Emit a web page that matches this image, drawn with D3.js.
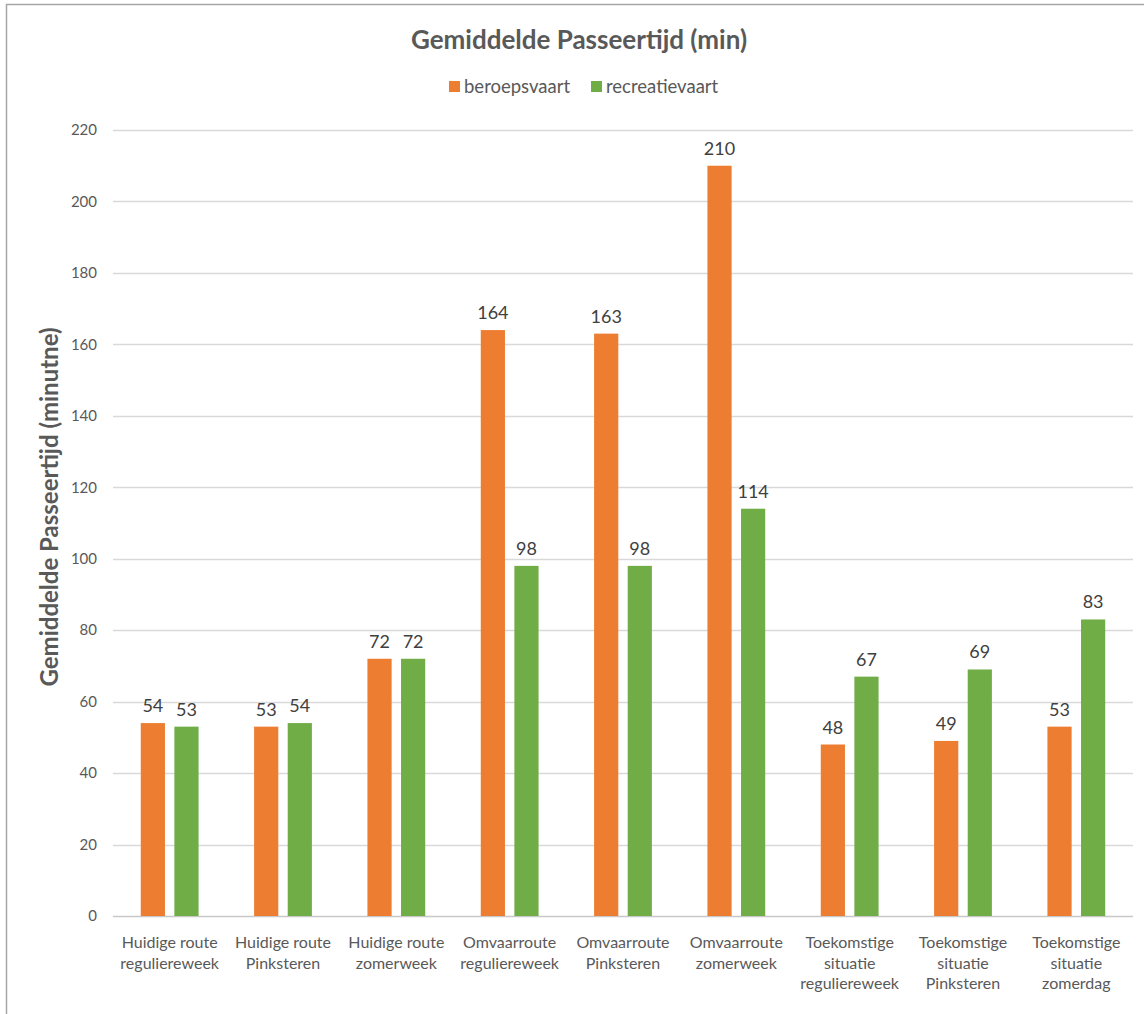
<!DOCTYPE html>
<html>
<head>
<meta charset="utf-8">
<script src="https://cdn.jsdelivr.net/npm/d3@7/dist/d3.min.js"></script>
<style>
  html, body { margin: 0; padding: 0; background: #fff; }
  svg { display: block; font-family: Lato, "Open Sans", "Noto Sans", sans-serif; }
</style>
</head>
<body>
<svg id="chart" width="1144" height="1014"></svg>
<script>
// Categories (multi-line labels) and series values in minutes
const categories = [
  ["Huidige route", "reguliereweek"],
  ["Huidige route", "Pinksteren"],
  ["Huidige route", "zomerweek"],
  ["Omvaarroute", "reguliereweek"],
  ["Omvaarroute", "Pinksteren"],
  ["Omvaarroute", "zomerweek"],
  ["Toekomstige", "situatie", "reguliereweek"],
  ["Toekomstige", "situatie", "Pinksteren"],
  ["Toekomstige", "situatie", "zomerdag"]
];
const seriesNames = ["beroepsvaart", "recreatievaart"];
const beroepsvaart = [54, 53, 72, 164, 163, 210, 48, 49, 53];
const recreatievaart = [53, 54, 72, 98, 98, 114, 67, 69, 83];
const yTicks = [0, 20, 40, 60, 80, 100, 120, 140, 160, 180, 200, 220];
const seriesColors = ["#ED7D31", "#70AD47"];

const svg = d3.select("#chart");
const W = 1144, H = 1014;
const margin = { left: 113, right: 11, top: 130, bottom: 98 };
const plotW = W - margin.left - margin.right;
const plotH = H - margin.top - margin.bottom;

// chart frame
svg.append("rect").attr("x", 6.5).attr("y", 4.5).attr("width", W + 10).attr("height", H + 10)
  .attr("fill", "#fff").attr("stroke", "#a6a6a6").attr("stroke-width", 1.5);

const g = svg.append("g").attr("transform", `translate(${margin.left},${margin.top})`);

const x0 = d3.scaleBand().domain(d3.range(categories.length)).range([0, plotW]).paddingInner(0.49).paddingOuter(0.245);
const x1 = d3.scaleBand().domain(seriesNames).range([0, x0.bandwidth()]).paddingInner(0.28);
const y = d3.scaleLinear().domain([0, 220]).range([plotH, 0]);

// gridlines
g.append("g").selectAll("line").data(yTicks).join("line")
  .attr("x1", 0).attr("x2", plotW)
  .attr("y1", d => Math.round(y(d)) + 0.5).attr("y2", d => Math.round(y(d)) + 0.5)
  .attr("stroke", d => d === 0 ? "#c8c8c8" : "#d9d9d9").attr("stroke-width", 1.3);

// y axis tick labels
const yAxis = d3.axisLeft(y).tickValues(yTicks).tickSize(0).tickPadding(16);
const ya = g.append("g").call(yAxis);
ya.select(".domain").remove();
ya.selectAll("text").attr("font-size", 15).attr("fill", "#595959")
  .attr("font-family", "Lato, 'Open Sans', sans-serif");

// bars
const data = categories.map((c, i) => ({ i, vals: [beroepsvaart[i], recreatievaart[i]] }));
const groups = g.selectAll(".grp").data(data).join("g")
  .attr("transform", d => `translate(${x0(d.i)},0)`);

groups.selectAll("rect").data(d => d.vals.map((v, k) => ({ v, k }))).join("rect")
  .attr("x", d => x1(seriesNames[d.k]))
  .attr("width", x1.bandwidth())
  .attr("y", d => y(d.v))
  .attr("height", d => plotH - y(d.v))
  .attr("fill", d => seriesColors[d.k]);

// value labels
groups.selectAll("text.val").data(d => d.vals.map((v, k) => ({ v, k }))).join("text")
  .attr("class", "val")
  .attr("x", d => x1(seriesNames[d.k]) + x1.bandwidth() / 2)
  .attr("y", d => y(d.v) - 11)
  .attr("text-anchor", "middle")
  .attr("font-size", 18).attr("fill", "#404040")
  .text(d => d.v);

// x category labels
const xl = g.append("g").attr("transform", `translate(0,${plotH})`);
xl.selectAll("text").data(categories).join("text")
  .attr("text-anchor", "middle")
  .attr("font-size", 16).attr("fill", "#595959")
  .attr("transform", (d, i) => `translate(${x0(i) + x0.bandwidth() / 2},32)`)
  .each(function (d) {
    const t = d3.select(this);
    d.forEach((line, j) => t.append("tspan").attr("x", 0).attr("dy", j === 0 ? 0 : 20.5).text(line));
  });

// title
svg.append("text").attr("x", 579).attr("y", 49).attr("text-anchor", "middle")
  .attr("font-size", 26).attr("font-weight", "bold").attr("fill", "#595959")
  .text("Gemiddelde Passeertijd (min)");

// y axis title
svg.append("text")
  .attr("transform", `translate(58,${margin.top + plotH / 2 - 16}) rotate(-90)`)
  .attr("text-anchor", "middle")
  .attr("font-size", 24).attr("font-weight", "bold").attr("fill", "#595959")
  .text("Gemiddelde Passeertijd (minutne)");

// legend
const legend = svg.append("g").attr("transform", "translate(0,87)");
const legendX = [449, 591];
seriesNames.forEach((name, k) => {
  legend.append("rect").attr("x", legendX[k]).attr("y", -6).attr("width", 11).attr("height", 11)
    .attr("fill", seriesColors[k]);
  legend.append("text").attr("x", legendX[k] + 15).attr("y", 6)
    .attr("font-size", 18.5).attr("fill", "#595959").text(name);
});
</script>
</body>
</html>
